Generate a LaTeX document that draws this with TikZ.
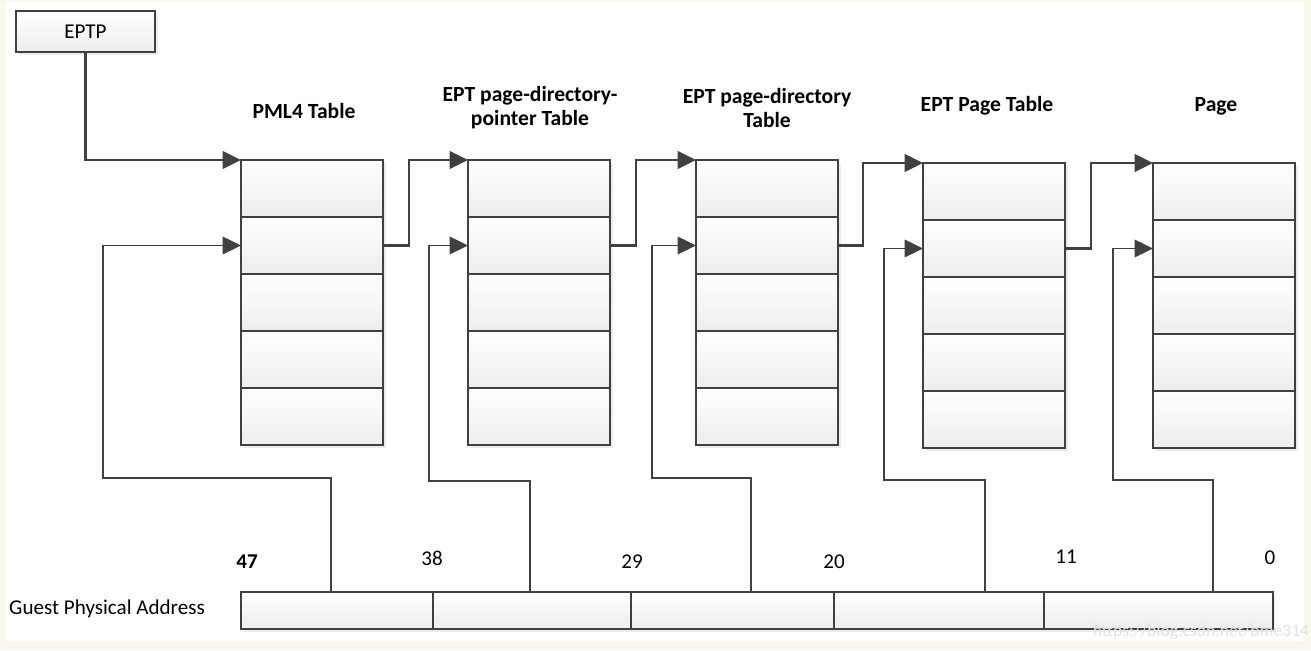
\documentclass[tikz,border=0pt]{standalone}
\usepackage{fontspec}
\setmainfont{Carlito}
\usetikzlibrary{positioning,arrows.meta,shadows}
\definecolor{ink}{HTML}{404040}
\definecolor{paper}{HTML}{FAF7EE}
\begin{document}
\begin{tikzpicture}
		[x=0.02cm,y=-0.02cm,font=\fontsize{12}{13.6}\selectfont,
		cell/.style={rectangle,draw=ink,line width=1.5pt,top color=white,bottom color=gray!14,inner sep=0pt,outer sep=0pt,minimum width=2.84cm,minimum height=1.14cm,drop shadow={shadow xshift=1.5pt,shadow yshift=-1.5pt,opacity=.15}},
		field/.style={cell,line width=1.1pt,minimum height=0.74cm},
		title/.style={font=\fontsize{12.3}{13.6}\selectfont\bfseries,align=center},
		link/.style={draw=ink,line width=1.5pt,-{Triangle[length=10.5pt,width=10pt]}},
		tap/.style={link,line width=1.1pt}]
		\fill[paper] (0,0) rectangle (1311,650);
		\fill[white] (5,2) rectangle (1304,641);
		\useasboundingbox (0,0) rectangle (1311,650);
		% tables
		\foreach \name/\x/\y in {pml4/241/160,pdpt/468/160,pd/696/160,pt/923/163,page/1153/163}{
			\node (\name-1) [cell,anchor=north west] at (\x,\y) {};
			\foreach \i [count=\j from 2] in {1,...,4}
				\node (\name-\j) [cell,anchor=north] at (\name-\i.south) {};
		}
		\node (t-pml4) [title] at (304,111) {PML4 Table};
		\node (t-pdpt) [title] at (530,108) {EPT page-directory-\\pointer Table};
		\node (t-pd) [title] at (767,108) {EPT page-directory\\Table};
		\node (t-pt) [title] at (987,106) {EPT Page Table};
		\node (t-page) [title] at (1216,106) {Page};
		% EPTP
		\node (eptp) [cell,anchor=north west,minimum width=2.78cm,minimum height=0.82cm] at (16,11) {EPTP};
		\draw[link] (eptp.south) |- (pml4-1.north west);
		\draw[link] (pml4-2.east) -- ++(26,0) |- (pdpt-1.north west);
		\draw[link] (pdpt-2.east) -- ++(26,0) |- (pd-1.north west);
		\draw[link] (pd-2.east) -- ++(25,0) |- (pt-1.north west);
		\draw[link] (pt-2.east) -- ++(26,0) |- (page-1.north west);
		% guest physical address
		\node (gpa-1) [field,anchor=north west,minimum width=3.84cm] at (241,592) {};
		\node (gpa-2) [field,anchor=west,minimum width=3.96cm] at (gpa-1.east) {};
		\node (gpa-3) [field,anchor=west,minimum width=4.06cm] at (gpa-2.east) {};
		\node (gpa-4) [field,anchor=west,minimum width=4.20cm] at (gpa-3.east) {};
		\node (gpa-5) [field,anchor=west,minimum width=4.58cm] at (gpa-4.east) {};
		\node (gpa) [anchor=east] at (211,609) {Guest Physical Address};
		\node (b47) at (247,562) {\bfseries 47};
		\node (b38) at (432,558) {38};
		\node (b29) at (632,562) {29};
		\node (b20) at (834,562) {20};
		\node (b11) at (1066,557) {11};
		\node (b0) at (1270,558) {0};
		\coordinate (tap1) at (331,592);
		\coordinate (tap2) at (530,592);
		\coordinate (tap3) at (751,592);
		\coordinate (tap4) at (985,592);
		\coordinate (tap5) at (1213,592);
		\draw[tap] (tap1) |- (103,478) |- (pml4-2.west);
		\draw[tap] (tap2) |- (429,481) |- (pdpt-2.west);
		\draw[tap] (tap3) |- (652,478) |- (pd-2.west);
		\draw[tap] (tap4) |- (884,480) |- (pt-2.west);
		\draw[tap] (tap5) |- (1113,480) |- (page-2.west);
		\node (mark) [text=gray!22,font=\fontsize{10}{12}\selectfont] at (1201,632) {https://blog.csdn.net/bme314};
	\end{tikzpicture}
\end{document}
